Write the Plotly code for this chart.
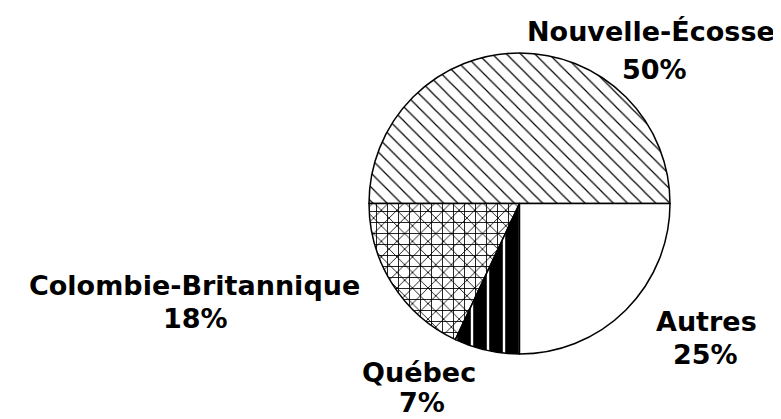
import plotly.graph_objects as go

labels = ["Nouvelle-Écosse", "Colombie-Britannique", "Québec", "Autres"]
values = [50, 18, 7, 25]
patterns = ["\\", "x", "|", ""]

W, H = 781, 419

fig = go.Figure()
fig.add_trace(go.Pie(
    labels=labels, values=values, sort=False, direction="counterclockwise",
    rotation=270, textinfo="none", hoverinfo="label+percent",
    marker=dict(colors=["white"] * 4,
                line=dict(color="black", width=1.5),
                pattern=dict(shape=patterns, fgcolor="black", bgcolor="white",
                             size=[10, 11, 16, 10], solidity=[0.12, 0.15, 0.85, 0.1],
                             fgopacity=1, fillmode="replace")),
    domain=dict(x=[360 / W, 663 / W], y=[1 - 346 / H, 1 - 45 / H]),
    showlegend=False,
))
# grid overlay for the cross-hatched slice
fig.add_trace(go.Pie(
    labels=labels, values=values, sort=False, direction="counterclockwise",
    rotation=270, textinfo="none", hoverinfo="skip",
    marker=dict(colors=["rgba(0,0,0,0)"] * 4,
                line=dict(color="rgba(0,0,0,0)", width=0),
                pattern=dict(shape=["", "+", "", ""], fgcolor="black",
                             bgcolor="rgba(0,0,0,0)", size=11, solidity=0.15,
                             fgopacity=1, fillmode="overlay")),
    domain=dict(x=[360 / W, 663 / W], y=[1 - 346 / H, 1 - 45 / H]),
    showlegend=False,
))

# label positions (pixels): name centre, percent centre
pos = [((643, 24), (646, 61)), ((186, 277), (187, 310)),
       ((411, 364), (414, 394)), ((698, 313), (697, 346))]
font = dict(family="DejaVu Sans, sans-serif", size=27, color="black")
for lab, v, (p1, p2) in zip(labels, values, pos):
    fig.add_annotation(x=p1[0] / W, y=1 - p1[1] / H, xref="paper", yref="paper",
                       xanchor="center", yanchor="middle", borderpad=0,
                       text=f"<b>{lab}</b>", showarrow=False, font=font)
    fig.add_annotation(x=p2[0] / W, y=1 - p2[1] / H, xref="paper", yref="paper",
                       xanchor="center", yanchor="middle", borderpad=0,
                       text=f"<b>{v}%</b>", showarrow=False, font=font)

fig.update_layout(width=W, height=H, margin=dict(l=0, r=0, t=0, b=0),
                  paper_bgcolor="white", plot_bgcolor="white")
fig.write_html("out.html")
